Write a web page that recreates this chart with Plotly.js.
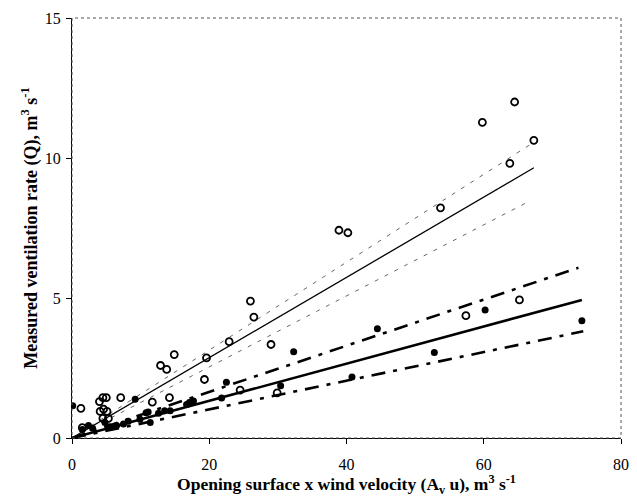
<!DOCTYPE html>
<html>
<head>
<meta charset="utf-8">
<script src="https://cdn.plot.ly/plotly-3.0.1.min.js"></script>
<style>html,body{margin:0;padding:0;background:#fff;}#chart{width:637px;height:497px;}</style>
</head>
<body>
<div id="chart"></div>
<script>
// Open circles (series 1)
const openX = [1.3, 1.5, 4.0, 4.5, 5.0, 7.1, 4.1, 4.6, 5.1, 4.5, 5.3, 11.7, 14.2, 12.9, 13.8, 14.9, 19.6, 19.3, 22.9, 26.0, 26.5, 29.0, 24.5, 29.9, 38.9, 40.2, 53.7, 59.8, 64.5, 67.3, 63.8, 65.2, 57.4];
const openY = [1.06, 0.37, 1.30, 1.44, 1.44, 1.44, 0.95, 1.03, 0.95, 0.70, 0.70, 1.28, 1.44, 2.59, 2.45, 2.98, 2.86, 2.09, 3.44, 4.89, 4.32, 3.34, 1.71, 1.61, 7.42, 7.33, 8.22, 11.27, 12.00, 10.63, 9.81, 4.93, 4.37];
// Filled circles (series 2)
const fillX = [0.1, 1.5, 2.4, 3.0, 4.8, 5.5, 6.5, 7.5, 8.2, 9.2, 9.9, 10.8, 11.1, 11.4, 12.6, 13.5, 14.3, 16.7, 17.1, 17.7, 21.8, 22.5, 30.4, 32.3, 40.8, 44.5, 52.8, 60.2, 74.3];
const fillY = [1.15, 0.30, 0.45, 0.35, 0.55, 0.40, 0.45, 0.50, 0.60, 1.38, 0.67, 0.90, 0.93, 0.55, 0.88, 0.97, 0.97, 1.20, 1.27, 1.32, 1.43, 1.99, 1.87, 3.08, 2.18, 3.90, 3.05, 4.57, 4.19];
// Regression lines (endpoints)
const fitOpenX = [0, 67.3];
const fitOpenY = [0, 9.65];
const fitOpenUpperX = [0, 66.9];
const fitOpenUpperY = [0, 10.5];
const fitOpenLowerX = [0, 66.2];
const fitOpenLowerY = [0, 8.4];
const fitFillX = [0, 74.3];
const fitFillY = [0, 4.93];
const fitFillUpperX = [0, 73.8];
const fitFillUpperY = [0, 6.08];
const fitFillLowerX = [0, 74.5];
const fitFillLowerY = [0, 3.81];
const xTicks = [0, 20, 40, 60, 80];
const yTicks = [0, 5, 10, 15];

const font = 'Liberation Serif, Times New Roman, serif';
const traces = [
  {x: fitOpenUpperX, y: fitOpenUpperY, mode: 'lines', line: {color: '#555', width: 0.9, dash: '4px,7px'}, hoverinfo: 'skip'},
  {x: fitOpenLowerX, y: fitOpenLowerY, mode: 'lines', line: {color: '#555', width: 0.9, dash: '4px,7px'}, hoverinfo: 'skip'},
  {x: fitOpenX, y: fitOpenY, mode: 'lines', line: {color: '#000', width: 1.3}},
  {x: fitFillUpperX, y: fitFillUpperY, mode: 'lines', line: {color: '#000', width: 2.6, dash: '14px,8px,4px,8px'}},
  {x: fitFillLowerX, y: fitFillLowerY, mode: 'lines', line: {color: '#000', width: 2.6, dash: '14px,8px,4px,8px'}},
  {x: fitFillX, y: fitFillY, mode: 'lines', line: {color: '#000', width: 2.6}},
  {x: openX, y: openY, mode: 'markers', marker: {symbol: 'circle-open', size: 7, color: '#000', line: {width: 1.8, color: '#000'}}},
  {x: fillX, y: fillY, mode: 'markers', marker: {symbol: 'circle', size: 7, color: '#000'}}
];
const layout = {
  width: 637, height: 497,
  margin: {l: 72, r: 16, t: 18, b: 59},
  showlegend: false,
  paper_bgcolor: '#fff', plot_bgcolor: '#fff',
  font: {family: font, color: '#000', size: 16},
  xaxis: {
    range: [0, 80], tickvals: xTicks, ticktext: xTicks.map(String),
    showgrid: false, zeroline: false, showline: true, linecolor: '#000', linewidth: 1,
    ticks: 'outside', ticklen: 5, tickcolor: '#000', ticklabelstandoff: 7,
    tickfont: {family: font, size: 16},
    title: {text: '<b>Opening surface x wind velocity (A<sub>v</sub> u), m<sup>3</sup> s<sup>-1</sup></b>', font: {family: font, size: 17.5}, standoff: 9}
  },
  yaxis: {
    range: [0, 15], tickvals: yTicks, ticktext: yTicks.map(String),
    showgrid: false, zeroline: false, showline: true, linecolor: '#000', linewidth: 1,
    ticks: 'outside', ticklen: 5, tickcolor: '#000', ticklabelstandoff: 2,
    tickfont: {family: font, size: 16},
    title: {text: '<b>Measured ventilation rate (Q), m<sup>3</sup> s<sup>-1</sup></b>', font: {family: font, size: 18}, standoff: 2}
  },
  shapes: [{type: 'rect', xref: 'paper', yref: 'paper', x0: 0, x1: 1, y0: 0, y1: 1, line: {color: '#555', width: 1, dash: 'dot'}}]
};
Plotly.newPlot('chart', traces, layout, {displayModeBar: false, staticPlot: true});
</script>
</body>
</html>
